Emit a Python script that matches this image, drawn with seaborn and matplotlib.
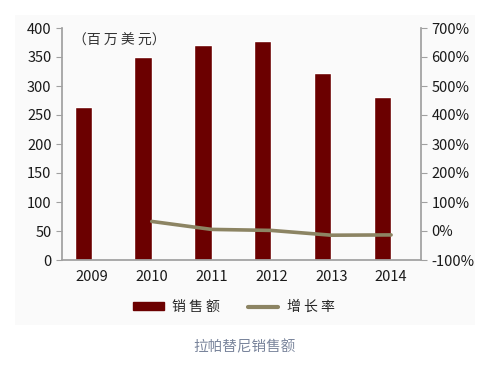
import numpy as np
import pandas as pd
import matplotlib.pyplot as plt
import seaborn as sns
from matplotlib.patches import Rectangle
from matplotlib.lines import Line2D

years = ['2009', '2010', '2011', '2012', '2013', '2014']
sales = [264, 350, 370, 378, 323, 281]
growth = [np.nan, 33, 5.5, 2, -14.5, -13.5]  # %

BAR_COLOR = '#6b0000'
LINE_COLOR = '#8c8463'
AXIS_COLOR = '#a0a0a0'

sns.set_theme(style='white')
plt.rcParams['font.family'] = ['Noto Sans CJK SC', 'DejaVu Sans']

# long table: the growth series takes an empty slot so bars sit left of centre (Excel combo look)
bars = pd.DataFrame({
    'year': years * 2,
    'value': sales + [np.nan] * len(years),
    'series': ['销售额'] * len(years) + ['增长率'] * len(years),
})
line = pd.DataFrame({'pos': np.arange(len(years)), 'growth': growth}).dropna()

fig = plt.figure(figsize=(4.89, 3.68), dpi=100)
fig.patches.append(Rectangle((15 / 489, 1 - 325 / 368), 460 / 489, 310 / 368,
                             transform=fig.transFigure, facecolor='#fafafa',
                             edgecolor='none', zorder=-10))
ax = fig.add_axes([62 / 489, 1 - 260 / 368, 359 / 489, 232 / 368])
ax.patch.set_alpha(0)

sns.barplot(data=bars, x='year', y='value', hue='series',
            palette={'销售额': BAR_COLOR, '增长率': LINE_COLOR}, saturation=1,
            width=0.58, dodge=True, legend=False, ax=ax)
ax.set_ylim(0, 400)
ax.set_yticks(range(0, 401, 50))
ax.set_xlim(-0.5, len(years) - 0.5)
ax.set_xlabel('')
ax.set_ylabel('')

ax2 = ax.twinx()
sns.lineplot(data=line, x='pos', y='growth', color=LINE_COLOR,
             linewidth=2.6, ax=ax2)
ax2.set_ylim(-100, 700)
ax2.set_yticks(range(-100, 701, 100))
ax2.set_yticklabels([f'{v}%' for v in range(-100, 701, 100)])
ax2.set_ylabel('')
ax2.set_xlabel('')
ax2.set_xlim(-0.5, len(years) - 0.5)

for a in (ax, ax2):
    for s in a.spines.values():
        s.set_visible(False)
    a.tick_params(labelsize=10.5, colors='#1a1a1a', length=4, color=AXIS_COLOR, width=0.8)

ax.spines['left'].set_visible(True)
ax.spines['left'].set_color(AXIS_COLOR)
ax.spines['bottom'].set_visible(True)
ax.spines['bottom'].set_color(AXIS_COLOR)
ax2.spines['right'].set_visible(True)
ax2.spines['right'].set_color(AXIS_COLOR)
ax.tick_params(axis='x', length=0, pad=7)
ax.set_xticks(np.arange(-0.5, len(years)), minor=True)
ax.tick_params(axis='x', which='minor', length=4, color=AXIS_COLOR, width=0.8)

ax.text(0.03, 0.975, '（百 万 美 元）', transform=ax.transAxes, fontsize=10,
        color='#333333', va='top', ha='left')

handles = [Rectangle((0, 0), 1, 1, color=BAR_COLOR),
           Line2D([0], [0], color=LINE_COLOR, linewidth=3)]
fig.legend(handles, ['销 售 额', '增 长 率'], loc='center', ncol=2, frameon=False,
           bbox_to_anchor=(234 / 489, 1 - 307 / 368), fontsize=10, handlelength=2.2,
           handleheight=0.5, handletextpad=0.6, columnspacing=2.0)

fig.text(0.5, 1 - 347 / 368, '拉帕替尼销售额', ha='center', va='center',
         fontsize=10.5, color='#7a859c')

fig.savefig('out.png', dpi=100)
